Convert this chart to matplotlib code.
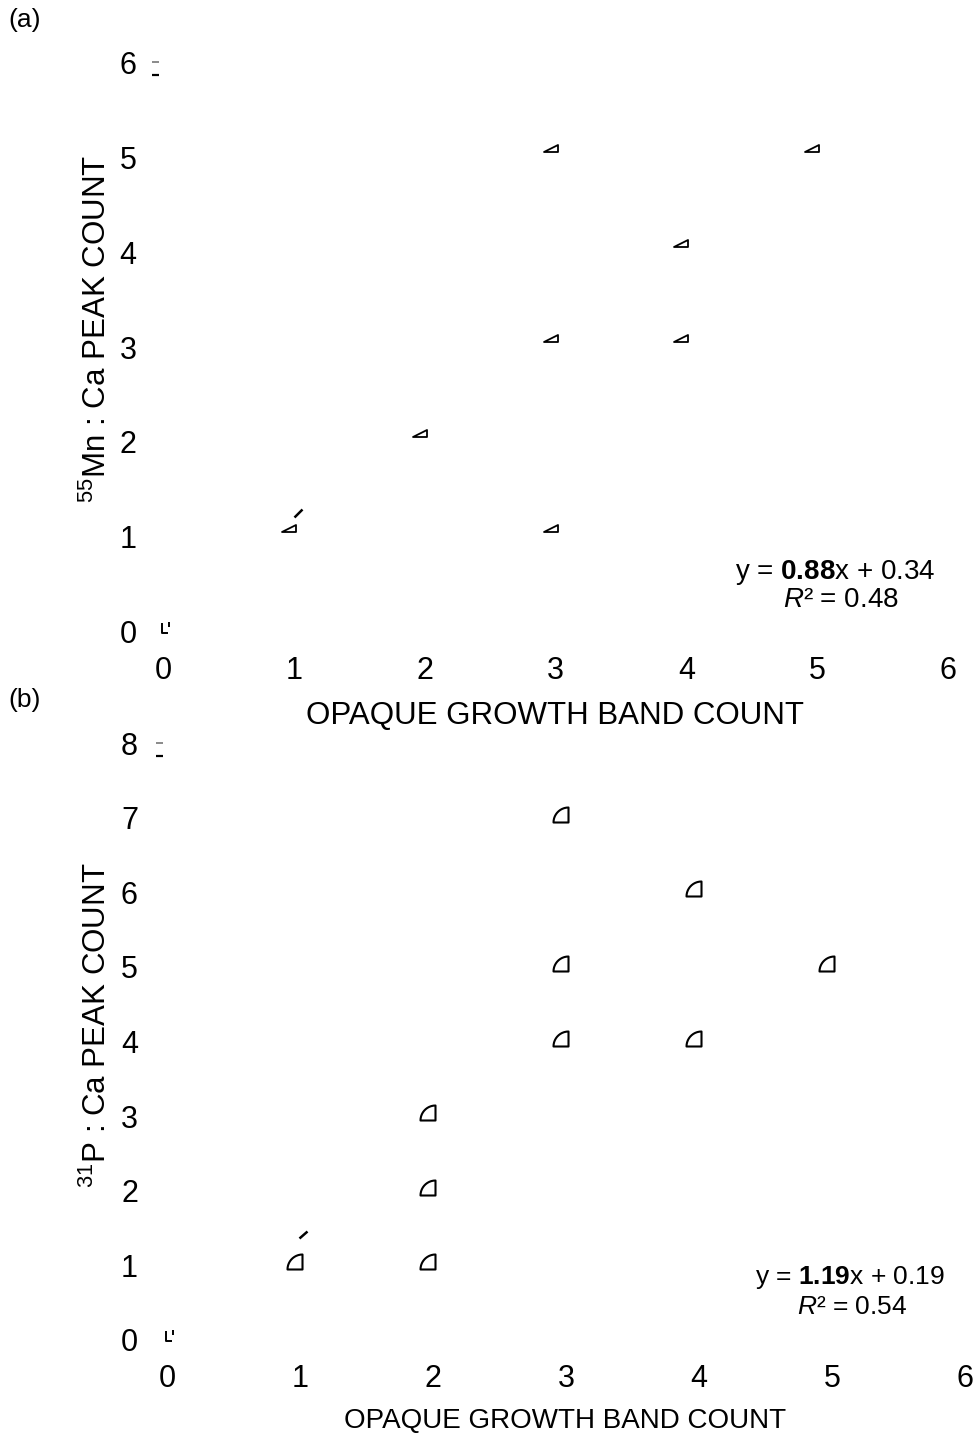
import numpy as np
import matplotlib
matplotlib.use("Agg")
import matplotlib.pyplot as plt
from matplotlib.path import Path

plt.rcParams['font.family'] = ['Liberation Sans', 'DejaVu Sans']
plt.rcParams['mathtext.fontset'] = 'custom'
plt.rcParams['mathtext.rm'] = 'Liberation Sans'
plt.rcParams['mathtext.it'] = 'Liberation Sans:italic'
plt.rcParams['mathtext.bf'] = 'Liberation Sans:bold'

DPI = 100

# (a) Mn:Ca peaks vs opaque bands
bands_a = [0, 1, 2, 3, 3, 3, 4, 4, 5]
mn_peaks = [0, 1, 2, 1, 3, 5, 3, 4, 5]
fit_a = "y = $\\mathbf{0.88}$x + 0.34"
r2_a = "$\\mathit{R}$² = 0.48"

# (b) P:Ca peaks vs opaque bands
bands_b = [0, 1, 2, 2, 2, 3, 3, 3, 4, 4, 5]
p_peaks = [0, 1, 1, 2, 3, 4, 5, 7, 4, 6, 5]
fit_b = "y = $\\mathbf{1.19}$x + 0.19"
r2_b = "$\\mathit{R}$² = 0.54"

x_ticks = [0, 1, 2, 3, 4, 5, 6]
y_ticks_a = [0, 1, 2, 3, 4, 5, 6]
y_ticks_b = [0, 1, 2, 3, 4, 5, 6, 7, 8]


def px_marker(segments, closed=False):
    # build a marker from pixel offsets, returns path and markersize in points
    verts, codes = [], []
    for seg in segments:
        for i, p in enumerate(seg):
            verts.append(p)
            codes.append(Path.MOVETO if i == 0 else Path.LINETO)
        if closed:
            verts.append(seg[0])
            codes.append(Path.CLOSEPOLY)
    verts = np.array(verts, float)
    r = np.abs(verts).max()
    return Path(verts, codes), 2 * r * 72 / DPI


tri, tri_ms = px_marker([[(-12, 5), (2, 5), (2, 12.5)]], closed=True)
ang = np.linspace(np.pi / 2, np.pi, 12)
arc = [(2 + 15 * np.cos(t), -4 + 15 * np.sin(t)) for t in ang]
quarter, quarter_ms = px_marker([[(-13, -4), (2, -4)] + arc[:-1]], closed=True)
origin_mk, origin_ms = px_marker([[(-1, 9), (-1, -1), (5, -1)], [(6, 5), (6, 10)]])
dash_top, dash_top_ms = px_marker([[(-11, 0), (-4, 0)]])
dash_low, dash_low_ms = px_marker([[(-11, -13), (-4, -13)]])
slash_a, slash_a_ms = px_marker([[(0, 20), (8, 28)]])
slash_b, slash_b_ms = px_marker([[(-1, 27), (7, 34)]])

fig = plt.figure(figsize=(9.78, 14.33), dpi=DPI)
ax_a = fig.add_axes([0.1667, 0.5590, 0.8027, 0.3977])
ax_b = fig.add_axes([0.1708, 0.0649, 0.8160, 0.4166])


def style_axes(ax, yticks, tick_size, ypad):
    ax.set_xlim(0, 6)
    ax.set_ylim(0, yticks[-1])
    ax.set_xticks(x_ticks)
    ax.set_yticks(yticks)
    for s in ax.spines.values():
        s.set_visible(False)
    ax.tick_params(axis='both', length=0, labelsize=tick_size)
    ax.tick_params(axis='x', pad=17)
    ax.tick_params(axis='y', pad=ypad)
    ax.set_facecolor('none')


def add_marks(ax, x, y, body, body_ms, body_lw, slash, slash_ms, ytop):
    # first point (0, 0) has its own glyph, the rest share the body marker
    ax.plot(x[1:], y[1:], ls='none', marker=body, ms=body_ms,
            mfc='white', mec='black', mew=body_lw, clip_on=False)
    ax.plot(x[:1], y[:1], ls='none', marker=origin_mk, ms=origin_ms,
            mfc='none', mec='black', mew=1.4, clip_on=False)
    ax.plot([1], [1], ls='none', marker=slash, ms=slash_ms, mfc='none',
            mec='black', mew=1.8, clip_on=False)
    ax.plot([0], [ytop], ls='none', marker=dash_top, ms=dash_top_ms, mfc='none',
            mec='#777777', mew=1.2, clip_on=False)
    ax.plot([0], [ytop], ls='none', marker=dash_low, ms=dash_low_ms, mfc='none',
            mec='black', mew=1.6, clip_on=False)


style_axes(ax_a, y_ticks_a, 22, 19)
style_axes(ax_b, y_ticks_b, 22, 21)

add_marks(ax_a, bands_a, mn_peaks, tri, tri_ms, 1.3, slash_a, slash_a_ms, y_ticks_a[-1])
add_marks(ax_b, bands_b, p_peaks, quarter, quarter_ms, 1.5, slash_b, slash_b_ms, y_ticks_b[-1])

ax_a.set_xlabel("OPAQUE GROWTH BAND COUNT", fontsize=22.5, va='center')
ax_a.xaxis.set_label_coords(0.4994, -0.147)
ax_a.set_ylabel("$^{55}$Mn : Ca PEAK COUNT", fontsize=22.5, va='center')
ax_a.yaxis.set_label_coords(-0.0835, 0.532)

ax_b.set_xlabel("OPAQUE GROWTH BAND COUNT", fontsize=20, va='center')
ax_b.xaxis.set_label_coords(0.4987, -0.1357)
ax_b.set_ylabel("$^{31}$P : Ca PEAK COUNT", fontsize=22.5, va='center')
ax_b.yaxis.set_label_coords(-0.087, 0.528)

ax_a.text(0.856, 0.105, fit_a, transform=ax_a.transAxes, ha='center', va='center', fontsize=20)
ax_a.text(0.863, 0.056, r2_a, transform=ax_a.transAxes, ha='center', va='center', fontsize=20)
ax_b.text(0.856, 0.104, fit_b, transform=ax_b.transAxes, ha='center', va='center', fontsize=19)
ax_b.text(0.859, 0.055, r2_b, transform=ax_b.transAxes, ha='center', va='center', fontsize=19)

fig.text(8 / 978, 1 - 20 / 1433, "(a)", ha='left', va='center', fontsize=19)
fig.text(8 / 978, 1 - 700 / 1433, "(b)", ha='left', va='center', fontsize=19)

fig.savefig("out.png", dpi=DPI)
